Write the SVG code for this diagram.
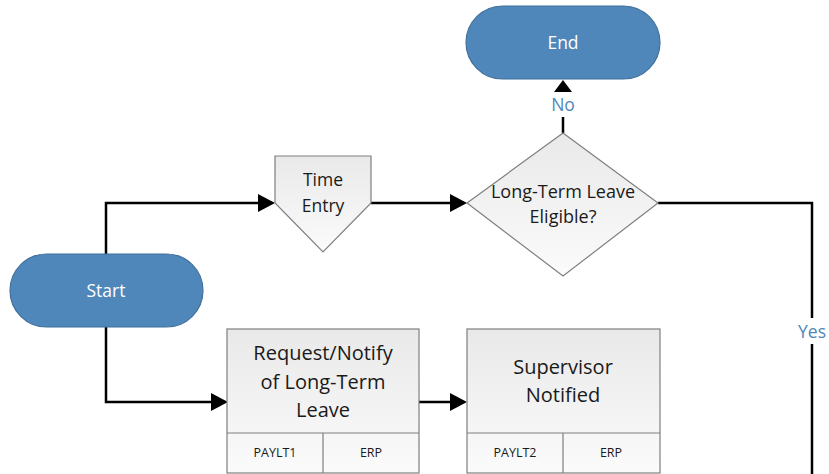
<svg xmlns="http://www.w3.org/2000/svg" width="829" height="474" viewBox="0 0 829 474">
<style>
.term{fill:#4f87ba;stroke:#41719c;stroke-width:1.2}
.box{fill:url(#g);stroke:#7f7f7f;stroke-width:1.2}
.wt{font-family:"Open Sans","Noto Sans",sans-serif;font-size:17.5px;fill:#ffffff;text-anchor:middle}
.t{font-family:"Open Sans","Noto Sans",sans-serif;fill:#1a1a1a;text-anchor:middle}
.lbl{font-family:"Open Sans","Noto Sans",sans-serif;font-size:17.5px;fill:#4f87ba;text-anchor:middle}
.c{fill:none;stroke:#000;stroke-width:2.5}
</style>
<defs>
<linearGradient id="g" x1="0" y1="0" x2="0" y2="1">
<stop offset="0" stop-color="#e9e9e9"/>
<stop offset="1" stop-color="#fbfbfb"/>
</linearGradient>
</defs>
<g id="connectors">
<path class="c" d="M106,254 V203 H260"/>
<polygon points="258,194 275,203 258,212" fill="#000"/>
<path class="c" d="M371,203 H452"/>
<polygon points="450,194 467,203 450,212" fill="#000"/>
<path class="c" d="M563,133 V94"/>
<polygon points="554,92 563,80 572,92" fill="#000"/>
<path class="c" d="M106,327 V402 H212"/>
<polygon points="211,393 228,402 211,411" fill="#000"/>
<path class="c" d="M419,402 H452"/>
<polygon points="450,393 467,402 450,411" fill="#000"/>
<path class="c" d="M658,203 H812 V474"/>
<rect x="545" y="92" width="36" height="25" fill="#fff"/>
<text class="lbl" x="563" y="111">No</text>
<rect x="795" y="318" width="34" height="26" fill="#fff"/>
<text class="lbl" x="812" y="338">Yes</text>
</g>
<g id="end">
<rect class="term" x="466" y="6" width="194" height="73" rx="36.5"/>
<text class="wt" x="563" y="49">End</text>
</g>
<g id="start">
<rect class="term" x="10" y="254" width="193" height="73" rx="36.5"/>
<text class="wt" x="106" y="297">Start</text>
</g>
<g id="time-entry">
<polygon class="box" points="275,156 371,156 371,203 323,252 275,203"/>
<text class="t" font-size="17.5" x="323" y="186">Time</text>
<text class="t" font-size="17.5" x="323" y="212">Entry</text>
</g>
<g id="decision">
<polygon class="box" points="563,133 658,203 563,276 467,203"/>
<text class="t" font-size="18" x="563" y="198">Long-Term Leave</text>
<text class="t" font-size="18" x="563" y="223">Eligible?</text>
</g>
<g id="request">
<rect class="box" x="227" y="329" width="192" height="144"/>
<line x1="227" y1="433" x2="419" y2="433" stroke="#7f7f7f" stroke-width="1.2"/>
<line x1="323" y1="433" x2="323" y2="473" stroke="#7f7f7f" stroke-width="1.2"/>
<text class="t" font-size="20" x="323" y="360">Request/Notify</text>
<text class="t" font-size="20" x="323" y="389">of Long-Term</text>
<text class="t" font-size="20" x="323" y="417">Leave</text>
<text class="t" font-size="12.5" x="275" y="457">PAYLT1</text>
<text class="t" font-size="12.5" x="371" y="457">ERP</text>
</g>
<g id="supervisor">
<rect class="box" x="467" y="329" width="193" height="144"/>
<line x1="467" y1="433" x2="660" y2="433" stroke="#7f7f7f" stroke-width="1.2"/>
<line x1="563" y1="433" x2="563" y2="473" stroke="#7f7f7f" stroke-width="1.2"/>
<text class="t" font-size="20" x="563" y="374">Supervisor</text>
<text class="t" font-size="20" x="563" y="402">Notified</text>
<text class="t" font-size="12.5" x="515" y="457">PAYLT2</text>
<text class="t" font-size="12.5" x="611" y="457">ERP</text>
</g>
</svg>
